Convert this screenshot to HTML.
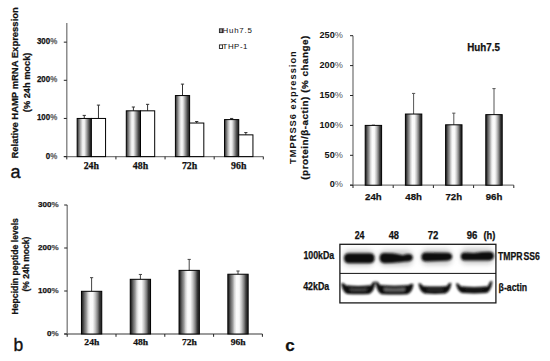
<!DOCTYPE html>
<html><head><meta charset="utf-8"><style>
html,body{margin:0;padding:0;background:#fff;}
body{width:550px;height:361px;overflow:hidden;}
svg{display:block;font-family:"Liberation Sans", sans-serif;}
</style></head><body>
<svg width="550" height="361" viewBox="0 0 550 361">
<defs>
<linearGradient id="gA" x1="0" x2="1" y1="0" y2="0">
<stop offset="0" stop-color="#333"/>
<stop offset="0.08" stop-color="#555"/>
<stop offset="0.25" stop-color="#b5b5b5"/>
<stop offset="0.4" stop-color="#f6f6f6"/>
<stop offset="0.52" stop-color="#ececec"/>
<stop offset="0.72" stop-color="#8a8a8a"/>
<stop offset="0.88" stop-color="#3c3c3c"/>
<stop offset="1" stop-color="#222"/>
</linearGradient>
<linearGradient id="gB" x1="0" x2="1" y1="0" y2="0">
<stop offset="0" stop-color="#222"/>
<stop offset="0.06" stop-color="#333"/>
<stop offset="0.14" stop-color="#666"/>
<stop offset="0.24" stop-color="#999"/>
<stop offset="0.33" stop-color="#d8d8d8"/>
<stop offset="0.43" stop-color="#fbfbfb"/>
<stop offset="0.56" stop-color="#f8f8f8"/>
<stop offset="0.68" stop-color="#c4c4c4"/>
<stop offset="0.8" stop-color="#808080"/>
<stop offset="0.9" stop-color="#363636"/>
<stop offset="1" stop-color="#222"/>
</linearGradient>
<filter id="bl1" x="-20%" y="-50%" width="140%" height="200%"><feGaussianBlur stdDeviation="1.05"/></filter>
<filter id="bl2" x="-20%" y="-50%" width="140%" height="200%"><feGaussianBlur stdDeviation="0.85"/></filter>
<filter id="bl3" x="-20%" y="-80%" width="140%" height="260%"><feGaussianBlur stdDeviation="2.5"/></filter>
</defs>
<rect width="550" height="361" fill="#fff"/>

<line x1="66.8" y1="23" x2="66.8" y2="156.6" stroke="#7a7a7a" stroke-width="1.3"/>
<line x1="63.8" y1="156.6" x2="263.3" y2="156.6" stroke="#7a7a7a" stroke-width="1.3"/>
<line x1="63.8" y1="156.6" x2="66.8" y2="156.6" stroke="#222" stroke-width="1"/>
<line x1="63.8" y1="118.44999999999999" x2="66.8" y2="118.44999999999999" stroke="#222" stroke-width="1"/>
<line x1="63.8" y1="80.3" x2="66.8" y2="80.3" stroke="#222" stroke-width="1"/>
<line x1="63.8" y1="42.150000000000006" x2="66.8" y2="42.150000000000006" stroke="#222" stroke-width="1"/>
<line x1="66.8" y1="156.6" x2="66.8" y2="159.4" stroke="#222" stroke-width="1"/>
<line x1="115.925" y1="156.6" x2="115.925" y2="159.4" stroke="#222" stroke-width="1"/>
<line x1="165.05" y1="156.6" x2="165.05" y2="159.4" stroke="#222" stroke-width="1"/>
<line x1="214.175" y1="156.6" x2="214.175" y2="159.4" stroke="#222" stroke-width="1"/>
<line x1="263.3" y1="156.6" x2="263.3" y2="159.4" stroke="#222" stroke-width="1"/>
<text x="57.2" y="158.5" font-size="8.6" font-weight="bold" text-anchor="end" fill="#111" textLength="11.47" lengthAdjust="spacingAndGlyphs"  stroke="#111" stroke-width="0.25">0<tspan fill="#6a6a6a" stroke="#6a6a6a">%</tspan></text>
<text x="57.2" y="120.35" font-size="8.6" font-weight="bold" text-anchor="end" fill="#111" textLength="20.3" lengthAdjust="spacingAndGlyphs"  stroke="#111" stroke-width="0.25">100<tspan fill="#6a6a6a" stroke="#6a6a6a">%</tspan></text>
<text x="57.2" y="82.2" font-size="8.6" font-weight="bold" text-anchor="end" fill="#111" textLength="20.3" lengthAdjust="spacingAndGlyphs"  stroke="#111" stroke-width="0.25">200<tspan fill="#6a6a6a" stroke="#6a6a6a">%</tspan></text>
<text x="57.2" y="44.05" font-size="8.6" font-weight="bold" text-anchor="end" fill="#111" textLength="20.3" lengthAdjust="spacingAndGlyphs"  stroke="#111" stroke-width="0.25">300<tspan fill="#6a6a6a" stroke="#6a6a6a">%</tspan></text>
<line x1="84.2625" y1="118.44999999999999" x2="84.2625" y2="115.398" stroke="#333" stroke-width="1"/>
<line x1="82.66250000000001" y1="115.398" x2="85.8625" y2="115.398" stroke="#333" stroke-width="1"/>
<line x1="98.46249999999999" y1="118.44999999999999" x2="98.46249999999999" y2="105.0975" stroke="#333" stroke-width="1"/>
<line x1="96.8625" y1="105.0975" x2="100.06249999999999" y2="105.0975" stroke="#333" stroke-width="1"/>
<rect x="77.1625" y="118.44999999999999" width="14.2" height="38.150000000000006" fill="url(#gA)" stroke="#000" stroke-width="1"/>
<rect x="91.3625" y="118.44999999999999" width="14.2" height="38.150000000000006" fill="#fff" stroke="#000" stroke-width="1"/>
<text x="91.36" y="169" font-size="9.8" font-weight="bold" text-anchor="middle" fill="#111" textLength="15.3" lengthAdjust="spacingAndGlyphs"  font-family="Liberation Serif, serif" stroke="#111" stroke-width="0.25">24h</text>
<line x1="133.38750000000002" y1="110.82" x2="133.38750000000002" y2="107.005" stroke="#333" stroke-width="1"/>
<line x1="131.78750000000002" y1="107.005" x2="134.9875" y2="107.005" stroke="#333" stroke-width="1"/>
<line x1="147.5875" y1="110.82" x2="147.5875" y2="104.33449999999999" stroke="#333" stroke-width="1"/>
<line x1="145.9875" y1="104.33449999999999" x2="149.1875" y2="104.33449999999999" stroke="#333" stroke-width="1"/>
<rect x="126.28750000000001" y="110.82" width="14.2" height="45.78" fill="url(#gA)" stroke="#000" stroke-width="1"/>
<rect x="140.4875" y="110.82" width="14.2" height="45.78" fill="#fff" stroke="#000" stroke-width="1"/>
<text x="140.49" y="169" font-size="9.8" font-weight="bold" text-anchor="middle" fill="#111" textLength="15.3" lengthAdjust="spacingAndGlyphs"  font-family="Liberation Serif, serif" stroke="#111" stroke-width="0.25">48h</text>
<line x1="182.51250000000002" y1="95.56" x2="182.51250000000002" y2="84.115" stroke="#333" stroke-width="1"/>
<line x1="180.91250000000002" y1="84.115" x2="184.1125" y2="84.115" stroke="#333" stroke-width="1"/>
<line x1="196.7125" y1="123.02799999999999" x2="196.7125" y2="121.502" stroke="#333" stroke-width="1"/>
<line x1="195.1125" y1="121.502" x2="198.3125" y2="121.502" stroke="#333" stroke-width="1"/>
<rect x="175.41250000000002" y="95.56" width="14.2" height="61.03999999999999" fill="url(#gA)" stroke="#000" stroke-width="1"/>
<rect x="189.6125" y="123.02799999999999" width="14.2" height="33.572" fill="#fff" stroke="#000" stroke-width="1"/>
<text x="189.61" y="169" font-size="9.8" font-weight="bold" text-anchor="middle" fill="#111" textLength="15.3" lengthAdjust="spacingAndGlyphs"  font-family="Liberation Serif, serif" stroke="#111" stroke-width="0.25">72h</text>
<line x1="231.63750000000002" y1="119.5945" x2="231.63750000000002" y2="118.44999999999999" stroke="#333" stroke-width="1"/>
<line x1="230.03750000000002" y1="118.44999999999999" x2="233.2375" y2="118.44999999999999" stroke="#333" stroke-width="1"/>
<line x1="245.8375" y1="134.8545" x2="245.8375" y2="132.5655" stroke="#333" stroke-width="1"/>
<line x1="244.2375" y1="132.5655" x2="247.4375" y2="132.5655" stroke="#333" stroke-width="1"/>
<rect x="224.53750000000002" y="119.5945" width="14.2" height="37.0055" fill="url(#gA)" stroke="#000" stroke-width="1"/>
<rect x="238.7375" y="134.8545" width="14.2" height="21.745499999999993" fill="#fff" stroke="#000" stroke-width="1"/>
<text x="238.74" y="169" font-size="9.8" font-weight="bold" text-anchor="middle" fill="#111" textLength="15.3" lengthAdjust="spacingAndGlyphs"  font-family="Liberation Serif, serif" stroke="#111" stroke-width="0.25">96h</text>
<rect x="219.4" y="28.8" width="3.2" height="3.8" fill="#999" stroke="#222" stroke-width="0.9"/>
<rect x="219.4" y="44.9" width="3.2" height="3.6" fill="#fff" stroke="#222" stroke-width="0.9"/>
<text x="222.6" y="33.3" font-size="7.9" font-weight="normal" text-anchor="start" fill="#111" textLength="29.2" lengthAdjust="spacing" >Huh7.5</text>
<text x="222.6" y="49.0" font-size="7.9" font-weight="normal" text-anchor="start" fill="#111" textLength="24.8" lengthAdjust="spacing" >THP-1</text>
<text transform="translate(18.4,82.9) rotate(-90)" x="0" y="0" font-size="9.4" font-weight="bold" text-anchor="middle" fill="#111" textLength="151.4" lengthAdjust="spacingAndGlyphs"  stroke="#111" stroke-width="0.25">Relative HAMP mRNA Expression</text>
<text transform="translate(29.5,82.4) rotate(-90)" x="0" y="0" font-size="9.3" font-weight="bold" text-anchor="middle" fill="#111" textLength="59.5" lengthAdjust="spacingAndGlyphs"  stroke="#111" stroke-width="0.25">(% 24h mock)</text>
<text x="10.6" y="177.6" font-size="18" font-weight="normal" text-anchor="start" fill="#111" stroke="#111" stroke-width="0.35">a</text>
<line x1="67.2" y1="205" x2="67.2" y2="334.0" stroke="#7a7a7a" stroke-width="1.3"/>
<line x1="64.2" y1="334.0" x2="262.4" y2="334.0" stroke="#7a7a7a" stroke-width="1.3"/>
<line x1="64.2" y1="334.0" x2="67.2" y2="334.0" stroke="#222" stroke-width="1"/>
<line x1="64.2" y1="291.0" x2="67.2" y2="291.0" stroke="#222" stroke-width="1"/>
<line x1="64.2" y1="248.0" x2="67.2" y2="248.0" stroke="#222" stroke-width="1"/>
<line x1="64.2" y1="205.0" x2="67.2" y2="205.0" stroke="#222" stroke-width="1"/>
<line x1="67.2" y1="334.0" x2="67.2" y2="336.8" stroke="#222" stroke-width="1"/>
<line x1="116.0" y1="334.0" x2="116.0" y2="336.8" stroke="#222" stroke-width="1"/>
<line x1="164.8" y1="334.0" x2="164.8" y2="336.8" stroke="#222" stroke-width="1"/>
<line x1="213.59999999999997" y1="334.0" x2="213.59999999999997" y2="336.8" stroke="#222" stroke-width="1"/>
<line x1="262.4" y1="334.0" x2="262.4" y2="336.8" stroke="#222" stroke-width="1"/>
<text x="58.6" y="335.9" font-size="7.5" font-weight="bold" text-anchor="end" fill="#111" textLength="11.6" lengthAdjust="spacingAndGlyphs"  stroke="#111" stroke-width="0.25">0<tspan fill="#555" stroke="#555">%</tspan></text>
<text x="58.6" y="292.9" font-size="7.5" font-weight="bold" text-anchor="end" fill="#111" textLength="20.53" lengthAdjust="spacingAndGlyphs"  stroke="#111" stroke-width="0.25">100<tspan fill="#555" stroke="#555">%</tspan></text>
<text x="58.6" y="249.9" font-size="7.5" font-weight="bold" text-anchor="end" fill="#111" textLength="20.53" lengthAdjust="spacingAndGlyphs"  stroke="#111" stroke-width="0.25">200<tspan fill="#555" stroke="#555">%</tspan></text>
<text x="58.6" y="206.9" font-size="7.5" font-weight="bold" text-anchor="end" fill="#111" textLength="20.53" lengthAdjust="spacingAndGlyphs"  stroke="#111" stroke-width="0.25">300<tspan fill="#555" stroke="#555">%</tspan></text>
<line x1="91.6" y1="291.301" x2="91.6" y2="277.67" stroke="#444" stroke-width="1"/>
<line x1="90.0" y1="277.67" x2="93.19999999999999" y2="277.67" stroke="#444" stroke-width="1"/>
<rect x="81.44999999999999" y="291.301" width="20.3" height="42.69900000000001" fill="url(#gB)" stroke="#000" stroke-width="1"/>
<text x="91.8" y="344.8" font-size="8.8" font-weight="bold" text-anchor="middle" fill="#111" textLength="14.9" lengthAdjust="spacingAndGlyphs"  font-family="Liberation Serif, serif" stroke="#111" stroke-width="0.25">24h</text>
<line x1="140.39999999999998" y1="279.304" x2="140.39999999999998" y2="274.445" stroke="#444" stroke-width="1"/>
<line x1="138.79999999999998" y1="274.445" x2="141.99999999999997" y2="274.445" stroke="#444" stroke-width="1"/>
<rect x="130.24999999999997" y="279.304" width="20.3" height="54.696000000000026" fill="url(#gB)" stroke="#000" stroke-width="1"/>
<text x="140.6" y="344.8" font-size="8.8" font-weight="bold" text-anchor="middle" fill="#111" textLength="14.9" lengthAdjust="spacingAndGlyphs"  font-family="Liberation Serif, serif" stroke="#111" stroke-width="0.25">48h</text>
<line x1="189.2" y1="270.36" x2="189.2" y2="259.395" stroke="#444" stroke-width="1"/>
<line x1="187.6" y1="259.395" x2="190.79999999999998" y2="259.395" stroke="#444" stroke-width="1"/>
<rect x="179.04999999999998" y="270.36" width="20.3" height="63.639999999999986" fill="url(#gB)" stroke="#000" stroke-width="1"/>
<text x="189.4" y="344.8" font-size="8.8" font-weight="bold" text-anchor="middle" fill="#111" textLength="14.9" lengthAdjust="spacingAndGlyphs"  font-family="Liberation Serif, serif" stroke="#111" stroke-width="0.25">72h</text>
<line x1="238.0" y1="274.23" x2="238.0" y2="271.005" stroke="#444" stroke-width="1"/>
<line x1="236.4" y1="271.005" x2="239.6" y2="271.005" stroke="#444" stroke-width="1"/>
<rect x="227.85" y="274.23" width="20.3" height="59.76999999999998" fill="url(#gB)" stroke="#000" stroke-width="1"/>
<text x="238.2" y="344.8" font-size="8.8" font-weight="bold" text-anchor="middle" fill="#111" textLength="14.9" lengthAdjust="spacingAndGlyphs"  font-family="Liberation Serif, serif" stroke="#111" stroke-width="0.25">96h</text>
<text transform="translate(18.3,266.3) rotate(-90)" x="0" y="0" font-size="8.7" font-weight="bold" text-anchor="middle" fill="#111" textLength="96.5" lengthAdjust="spacingAndGlyphs"  stroke="#111" stroke-width="0.25">Hepcidin peptide levels</text>
<text transform="translate(28.6,264.1) rotate(-90)" x="0" y="0" font-size="8.5" font-weight="bold" text-anchor="middle" fill="#111" textLength="55" lengthAdjust="spacingAndGlyphs"  stroke="#111" stroke-width="0.25">(% 24h mock)</text>
<text x="13.4" y="351.3" font-size="17.5" font-weight="normal" text-anchor="start" fill="#111" stroke="#111" stroke-width="0.35">b</text>
<line x1="353" y1="35.8" x2="353" y2="185.2" stroke="#7a7a7a" stroke-width="1.3"/>
<line x1="350" y1="185.2" x2="513.8" y2="185.2" stroke="#7a7a7a" stroke-width="1.3"/>
<line x1="350" y1="185.2" x2="353" y2="185.2" stroke="#222" stroke-width="1"/>
<line x1="350" y1="155.29999999999998" x2="353" y2="155.29999999999998" stroke="#222" stroke-width="1"/>
<line x1="350" y1="125.39999999999999" x2="353" y2="125.39999999999999" stroke="#222" stroke-width="1"/>
<line x1="350" y1="95.5" x2="353" y2="95.5" stroke="#222" stroke-width="1"/>
<line x1="350" y1="65.6" x2="353" y2="65.6" stroke="#222" stroke-width="1"/>
<line x1="350" y1="35.69999999999999" x2="353" y2="35.69999999999999" stroke="#222" stroke-width="1"/>
<line x1="353.0" y1="185.2" x2="353.0" y2="188.0" stroke="#222" stroke-width="1"/>
<line x1="393.2" y1="185.2" x2="393.2" y2="188.0" stroke="#222" stroke-width="1"/>
<line x1="433.4" y1="185.2" x2="433.4" y2="188.0" stroke="#222" stroke-width="1"/>
<line x1="473.59999999999997" y1="185.2" x2="473.59999999999997" y2="188.0" stroke="#222" stroke-width="1"/>
<line x1="513.8" y1="185.2" x2="513.8" y2="188.0" stroke="#222" stroke-width="1"/>
<text x="342.9" y="187.4" font-size="9" font-weight="bold" text-anchor="end" fill="#111" textLength="13.23" lengthAdjust="spacingAndGlyphs" stroke="none">0<tspan fill="#555" font-weight="normal">%</tspan></text>
<text x="342.9" y="157.5" font-size="9" font-weight="bold" text-anchor="end" fill="#111" textLength="18.32" lengthAdjust="spacingAndGlyphs" stroke="none">50<tspan fill="#555" font-weight="normal">%</tspan></text>
<text x="342.9" y="127.6" font-size="9" font-weight="bold" text-anchor="end" fill="#111" textLength="23.41" lengthAdjust="spacingAndGlyphs" stroke="none">100<tspan fill="#555" font-weight="normal">%</tspan></text>
<text x="342.9" y="97.7" font-size="9" font-weight="bold" text-anchor="end" fill="#111" textLength="23.41" lengthAdjust="spacingAndGlyphs" stroke="none">150<tspan fill="#555" font-weight="normal">%</tspan></text>
<text x="342.9" y="67.8" font-size="9" font-weight="bold" text-anchor="end" fill="#111" textLength="23.41" lengthAdjust="spacingAndGlyphs" stroke="none">200<tspan fill="#555" font-weight="normal">%</tspan></text>
<text x="342.9" y="37.9" font-size="9" font-weight="bold" text-anchor="end" fill="#111" textLength="23.41" lengthAdjust="spacingAndGlyphs" stroke="none">250<tspan fill="#555" font-weight="normal">%</tspan></text>
<line x1="373.40000000000003" y1="125.39999999999999" x2="373.40000000000003" y2="125.101" stroke="#555" stroke-width="1"/>
<line x1="371.8" y1="125.101" x2="375.00000000000006" y2="125.101" stroke="#555" stroke-width="1"/>
<rect x="365.20000000000005" y="125.39999999999999" width="16.4" height="59.8" fill="url(#gB)" stroke="#000" stroke-width="1"/>
<text x="373.4" y="199.8" font-size="9.8" font-weight="bold" text-anchor="middle" fill="#111" textLength="16.6" lengthAdjust="spacingAndGlyphs"  stroke="#111" stroke-width="0.25">24h</text>
<line x1="413.59999999999997" y1="114.038" x2="413.59999999999997" y2="93.407" stroke="#555" stroke-width="1"/>
<line x1="411.99999999999994" y1="93.407" x2="415.2" y2="93.407" stroke="#555" stroke-width="1"/>
<rect x="405.4" y="114.038" width="16.4" height="71.16199999999999" fill="url(#gB)" stroke="#000" stroke-width="1"/>
<text x="413.6" y="199.8" font-size="9.8" font-weight="bold" text-anchor="middle" fill="#111" textLength="16.6" lengthAdjust="spacingAndGlyphs"  stroke="#111" stroke-width="0.25">48h</text>
<line x1="453.8" y1="124.80199999999999" x2="453.8" y2="113.14099999999999" stroke="#555" stroke-width="1"/>
<line x1="452.2" y1="113.14099999999999" x2="455.40000000000003" y2="113.14099999999999" stroke="#555" stroke-width="1"/>
<rect x="445.6" y="124.80199999999999" width="16.4" height="60.397999999999996" fill="url(#gB)" stroke="#000" stroke-width="1"/>
<text x="453.8" y="199.8" font-size="9.8" font-weight="bold" text-anchor="middle" fill="#111" textLength="16.6" lengthAdjust="spacingAndGlyphs"  stroke="#111" stroke-width="0.25">72h</text>
<line x1="493.99999999999994" y1="114.636" x2="493.99999999999994" y2="88.62299999999999" stroke="#555" stroke-width="1"/>
<line x1="492.3999999999999" y1="88.62299999999999" x2="495.59999999999997" y2="88.62299999999999" stroke="#555" stroke-width="1"/>
<rect x="485.79999999999995" y="114.636" width="16.4" height="70.564" fill="url(#gB)" stroke="#000" stroke-width="1"/>
<text x="494.0" y="199.8" font-size="9.8" font-weight="bold" text-anchor="middle" fill="#111" textLength="16.6" lengthAdjust="spacingAndGlyphs"  stroke="#111" stroke-width="0.25">96h</text>
<text x="483.6" y="51.1" font-size="10" font-weight="bold" text-anchor="middle" fill="#111" textLength="32.7" lengthAdjust="spacingAndGlyphs"  stroke="#111" stroke-width="0.25">Huh7.5</text>
<text transform="translate(296.2,107.6) rotate(-90)" x="0" y="0" font-size="9.3" font-weight="bold" text-anchor="middle" fill="#111" textLength="112.8" lengthAdjust="spacing" stroke="none">TMPRSS6 expression</text>
<text transform="translate(308.3,107.7) rotate(-90)" x="0" y="0" font-size="9.9" font-weight="bold" text-anchor="middle" fill="#111" textLength="144" lengthAdjust="spacing"  stroke="#111" stroke-width="0.25">(protein/β-actin) (% change)</text>
<text x="359.6" y="238.7" font-size="10" font-weight="bold" text-anchor="middle" fill="#111" textLength="9.8" lengthAdjust="spacingAndGlyphs"  stroke="#111" stroke-width="0.25">24</text>
<text x="393.85" y="238.7" font-size="10" font-weight="bold" text-anchor="middle" fill="#111" textLength="10.3" lengthAdjust="spacingAndGlyphs"  stroke="#111" stroke-width="0.25">48</text>
<text x="433.0" y="238.7" font-size="10" font-weight="bold" text-anchor="middle" fill="#111" textLength="10.6" lengthAdjust="spacingAndGlyphs"  stroke="#111" stroke-width="0.25">72</text>
<text x="472.0" y="238.7" font-size="10" font-weight="bold" text-anchor="middle" fill="#111" textLength="10.6" lengthAdjust="spacingAndGlyphs"  stroke="#111" stroke-width="0.25">96</text>
<text x="489.35" y="238.7" font-size="10" font-weight="bold" text-anchor="middle" fill="#111" textLength="11.9" lengthAdjust="spacingAndGlyphs"  stroke="#111" stroke-width="0.25">(h)</text>
<text x="303.4" y="258.8" font-size="10" font-weight="bold" text-anchor="start" fill="#111" textLength="30.8" lengthAdjust="spacingAndGlyphs"  stroke="#111" stroke-width="0.25">100kDa</text>
<text x="303.2" y="289.5" font-size="10" font-weight="bold" text-anchor="start" fill="#111" textLength="26" lengthAdjust="spacingAndGlyphs"  stroke="#111" stroke-width="0.25">42kDa</text>
<text x="498" y="260.2" font-size="10.6" font-weight="bold" text-anchor="start" fill="#111" textLength="41.8" lengthAdjust="spacingAndGlyphs"  stroke="#111" stroke-width="0.25">TMPR<tspan dx="1.2">SS6</tspan></text>
<text x="498.6" y="290.9" font-size="10.2" font-weight="bold" text-anchor="start" fill="#111" textLength="28.6" lengthAdjust="spacingAndGlyphs"  stroke="#111" stroke-width="0.25">β-actin</text>
<g filter="url(#bl3)" fill="#999" opacity="0.5">
<rect x="343.6" y="250" width="30.599999999999966" height="16" rx="6"/>
<rect x="379.3" y="250" width="33.39999999999998" height="16" rx="6"/>
<rect x="421.2" y="249" width="30.900000000000034" height="16" rx="6"/>
<rect x="460.6" y="248" width="33.19999999999999" height="16" rx="6"/>
</g>
<g filter="url(#bl1)" fill="#111">
<path d="M344,258.2 Q344,253.3 349,253.3 L370,253.3 Q374.6,253.3 374.6,258 Q374.6,263.2 370,263.2 L349,263.2 Q344,263.2 344,258.2 Z"/>
<path d="M379.6,258 Q379.6,252.9 384.5,252.9 L393,253.2 Q399,254.2 403,255.2 Q406,253.8 409.5,254 Q413,254.8 412.8,257.8 Q412.4,261.2 408.5,261.4 Q404,261.6 400,262.2 Q392,263.2 384.5,263.2 Q379.6,263 379.6,258 Z"/>
<path d="M421.4,257 Q421.4,252.4 426,252.4 L447,252.8 Q452.2,253 452.2,256.6 Q452.2,260.6 447,260.8 L427,261.6 Q421.4,261.8 421.4,257 Z"/>
<path d="M460.8,256.4 Q460.8,252.6 465,252.6 L474,253 Q482,251.8 489,251.8 Q494,251.8 494,255.8 Q494,260.2 489,260.4 L466,260.6 Q460.8,260.6 460.8,256.4 Z"/>
</g>
<g filter="url(#bl2)">
<path d="M341.2,283.4 Q343.4,281.79999999999995 345.7,285.2 Q358.29999999999995,286.6 370.9,285.2 Q373.2,280.4 375.4,282.0 Q374.4,291.9 369.4,293.9 Q358.29999999999995,294.7 347.2,293.9 Q342.2,291.9 341.2,283.4 Z" fill="#0c0c0c"/>
<path d="M349.2,288.2 Q358.29999999999995,289.0 367.4,288.2 L366.4,290.7 Q358.29999999999995,291.29999999999995 350.2,290.7 Z" fill="#484848"/>
<path d="M375.5,281.8 Q377.7,280.2 380.0,285.0 Q394.5,286.40000000000003 409.0,285.0 Q411.3,282.7 413.5,284.3 Q412.5,292.2 407.5,294.2 Q394.5,295.0 381.5,294.2 Q376.5,292.2 375.5,281.8 Z" fill="#0c0c0c"/>
<path d="M383.5,288.0 Q394.5,288.8 405.5,288.0 L404.5,291.0 Q394.5,291.59999999999997 384.5,291.0 Z" fill="#6a6a6a"/>
<path d="M418.4,283.6 Q420.59999999999997,282.0 422.9,285.9 Q434.9,287.3 446.9,285.9 Q449.2,281.59999999999997 451.4,283.2 Q450.4,291.6 445.4,293.6 Q434.9,294.40000000000003 424.4,293.6 Q419.4,291.6 418.4,283.6 Z" fill="#0c0c0c"/>
<path d="M426.4,288.9 Q434.9,289.7 443.4,288.9 L442.4,290.40000000000003 Q434.9,291.0 427.4,290.40000000000003 Z" fill="#3a3a3a"/>
<path d="M456.0,283.6 Q458.2,282.0 460.5,286.2 Q474.2,287.6 487.9,286.2 Q490.2,279.79999999999995 492.4,281.4 Q491.4,291.0 486.4,293.0 Q474.2,293.8 462.0,293.0 Q457.0,291.0 456.0,283.6 Z" fill="#0c0c0c"/>
<path d="M464.0,289.2 Q474.2,290.0 484.4,289.2 L483.4,289.8 Q474.2,290.4 465.0,289.8 Z" fill="#404040"/>
</g>
<rect x="339.9" y="244.3" width="156" height="58.6" fill="none" stroke="#1a1a1a" stroke-width="1.3"/>
<line x1="340" y1="273.4" x2="496" y2="273.4" stroke="#111" stroke-width="1"/>
<text x="285.2" y="351.2" font-size="17" font-weight="bold" text-anchor="start" fill="#111"  stroke="#111" stroke-width="0.25">c</text>
</svg>
</body></html>
